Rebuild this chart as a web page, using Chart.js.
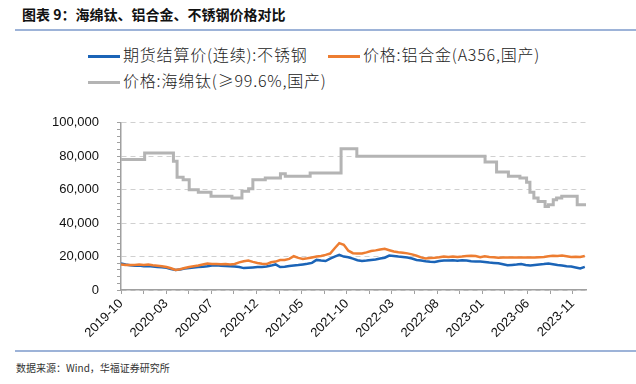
<!DOCTYPE html>
<html lang="zh-CN">
<head>
    <meta charset="UTF-8">
    <title>海绵钛、铝合金、不锈钢价格对比</title>
    <script src="https://cdn.jsdelivr.net/npm/chart.js"></script>
    <style>
        body {
            margin: 0;
            width: 636px;
            height: 384px;
            background: #fff;
            position: relative;
            overflow: hidden;
            font-family: "Noto Sans CJK SC", sans-serif;
        }

        .title {
            position: absolute;
            left: 22px;
            top: 4px;
            font-size: 14px;
            font-weight: bold;
            color: #111;
        }

        .rule {
            position: absolute;
            left: 15px;
            right: 0;
            height: 2px;
            background: #9db3d8;
        }

        .legend {
            position: absolute;
            font-size: 16px;
            font-weight: 300;
            letter-spacing: 0.8px;
            color: #222;
            white-space: nowrap;
        }

        .legend span.sw {
            display: inline-block;
            width: 32px;
            height: 3px;
            vertical-align: middle;
            margin-right: 3px;
        }

        .source {
            position: absolute;
            left: 16px;
            top: 360px;
            font-size: 10px;
            color: #333;
        }

        #wrap {
            position: absolute;
            left: 0;
            top: 97px;
            width: 600px;
            height: 258px;
        }
    </style>
</head>
<body>

    <div class="title">图表 9：海绵钛、铝合金、不锈钢价格对比</div>
    <div class="rule" style="top: 29px;"></div>

    <div class="legend" style="left: 88px; top: 42px;"><span class="sw" style="background:#1b64b7"></span>期货结算价(连续):不锈钢</div>
    <div class="legend" style="left: 328px; top: 42px;"><span class="sw" style="background:#ed7d31"></span>价格:铝合金(A356,国产)</div>
    <div class="legend" style="left: 88px; top: 68px;"><span class="sw" style="background:#b4b4b4"></span>价格:海绵钛(≥99.6%,国产)</div>

    <div id="wrap"><canvas id="priceChart"></canvas></div>

    <div class="rule" style="top: 350px;"></div>
    <div class="source">数据来源：Wind，华福证券研究所</div>

    <script>
        // x axis is measured in days from the first observation (early Oct 2019)
        const tickLabels = ['2019-10', '2020-03', '2020-07', '2020-12', '2021-05', '2021-10',
                            '2022-03', '2022-08', '2023-01', '2023-06', '2023-11'];
        const labelSpanDays = 149;   // distance between two labelled ticks
        const lastDay = 1534;

        // stainless steel futures + A356 alloy, read every 15 days (yuan/ton)
        const sampleDays = 15;
        const stainless = [
            15800, 15200, 14800, 14500, 14600, 14200, 14400, 14000, 13800, 13600,
            13300, 12600, 12000, 12200, 12800, 13200, 13500, 13700, 13900, 14200,
            14600, 14800, 14500, 14300, 14200, 14000, 13700, 13100, 13300, 13500,
            13700, 13800, 14000, 14600, 15300, 13700, 13900, 14300, 14600, 14900,
            15300, 15700, 16200, 18000, 17600, 17300, 18800, 20000, 21000, 20000,
            19600, 18800, 17800, 17300, 17600, 18000, 18200, 18800, 19300, 20600,
            20400, 20000, 19800, 19400, 18800, 18000, 17600, 17200, 16900, 16800,
            17300, 17700, 17600, 17800, 17500, 17800, 17600, 17200, 17000, 17000,
            16700, 16400, 16200, 16000, 15400, 14800, 15000, 15200, 15500, 15000,
            14600, 14900, 15200, 15500, 15900, 15400, 14900, 14600, 14200, 14000,
            13500, 12900, 13800
        ];
        const alloyA356 = [
            15200, 15000, 14900, 15000, 15200, 15000, 15200, 14800, 14500, 14200,
            13800, 13000, 12000, 12400, 13200, 13800, 14200, 14600, 15200, 15800,
            15600, 15500, 15400, 15500, 15300, 15600, 16500, 17200, 17600, 16800,
            16200, 15700, 15500, 16600, 17000, 17900, 18000, 18600, 20200, 19200,
            18600, 19000, 19500, 20000, 20300, 21000, 21800, 25000, 28000, 27000,
            23500, 22000, 21900, 21900, 22500, 23300, 23700, 24200, 24600, 23800,
            23000, 22600, 22300, 21900, 21300, 20500, 19500, 18900, 19100, 19300,
            19600, 20000, 19800, 20000, 19800, 20000, 20400, 20500, 20300, 19600,
            20200, 19800, 19600, 19300, 19500, 19500, 19400, 19400, 19400, 19500,
            19500, 19400, 19600, 19800, 20200, 20500, 20400, 20600, 20200, 19800,
            19900, 19700, 20300
        ];

        // titanium sponge price only changes in steps: day of change, new price
        const spongeDays = [0, 78, 173, 185, 205, 225, 255, 297, 366, 399, 421, 435, 476, 526, 542,
                            624, 726, 778, 1201, 1239, 1278, 1316, 1338, 1349, 1362, 1376, 1399,
                            1410, 1426, 1437, 1454, 1505, 1534];
        const spongePrice = [78000, 82000, 77000, 67500, 66000, 60000, 58500, 56000, 55000, 59000,
                             60500, 66000, 67000, 69500, 68000, 70000, 84500, 80000, 76500, 70500,
                             68000, 67000, 64500, 58500, 55000, 53000, 50000, 51000, 54000, 55000,
                             56000, 51000, 51000];

        const toPoints = (vals) => vals.map((v, i) => ({ x: i * sampleDays, y: v }));
        const spongePoints = spongeDays.map((d, i) => ({ x: d, y: spongePrice[i] }));

        // a minor tick sits half way between two labelled ticks
        const xTicks = [];
        for (let i = 0; i < tickLabels.length * 2 - 1; i++) {
            xTicks.push({ value: i * labelSpanDays / 2 });
        }

        const tickFont = { family: '"Liberation Sans", Arial, sans-serif', size: 13 };

        new Chart(document.getElementById('priceChart'), {
            type: 'line',
            data: {
                datasets: [
                    {
                        label: '期货结算价(连续):不锈钢',
                        data: toPoints(stainless),
                        borderColor: '#1b64b7',
                        borderWidth: 2.5,
                        pointRadius: 0,
                        order: 1
                    },
                    {
                        label: '价格:铝合金(A356,国产)',
                        data: toPoints(alloyA356),
                        borderColor: '#ed7d31',
                        borderWidth: 2.5,
                        pointRadius: 0,
                        order: 0
                    },
                    {
                        label: '价格:海绵钛(≥99.6%,国产)',
                        data: spongePoints,
                        borderColor: '#b4b4b4',
                        borderWidth: 3,
                        pointRadius: 0,
                        stepped: 'before',
                        order: 2
                    }
                ]
            },
            options: {
                responsive: true,
                maintainAspectRatio: false,
                animation: false,
                layout: { padding: { top: 10, right: 14, left: 0, bottom: 0 } },
                plugins: {
                    legend: { display: false },
                    tooltip: { enabled: false }
                },
                scales: {
                    x: {
                        type: 'linear',
                        min: 0,
                        max: lastDay,
                        afterBuildTicks: (axis) => { axis.ticks = xTicks.slice(); },
                        afterFit: (axis) => { axis.height = 65; },
                        grid: {
                            drawOnChartArea: false,
                            tickLength: 4,
                            tickColor: '#a0a0a0'
                        },
                        border: { color: '#a0a0a0', width: 1.5 },
                        ticks: {
                            autoSkip: false,
                            maxRotation: 45,
                            minRotation: 45,
                            padding: 2,
                            color: '#111',
                            font: tickFont,
                            callback: (value, index) => index % 2 === 0 ? tickLabels[index / 2] : ''
                        }
                    },
                    y: {
                        min: 0,
                        max: 100000,
                        afterFit: (axis) => { axis.width = 121; },
                        grid: {
                            color: (ctx) => ctx.tick && ctx.tick.value % 20000 === 0 ? '#d0d0d0' : 'rgba(0,0,0,0)',
                            tickLength: 4,
                            tickColor: '#a0a0a0'
                        },
                        border: { color: '#a0a0a0', width: 1.5, dash: [5, 4] },
                        ticks: {
                            stepSize: 4000,
                            autoSkip: false,
                            padding: 18,
                            color: '#111',
                            font: tickFont,
                            callback: (value) => value % 20000 === 0 ? value.toLocaleString('en-US') : ''
                        }
                    }
                }
            }
        });
    </script>

</body>
</html>
